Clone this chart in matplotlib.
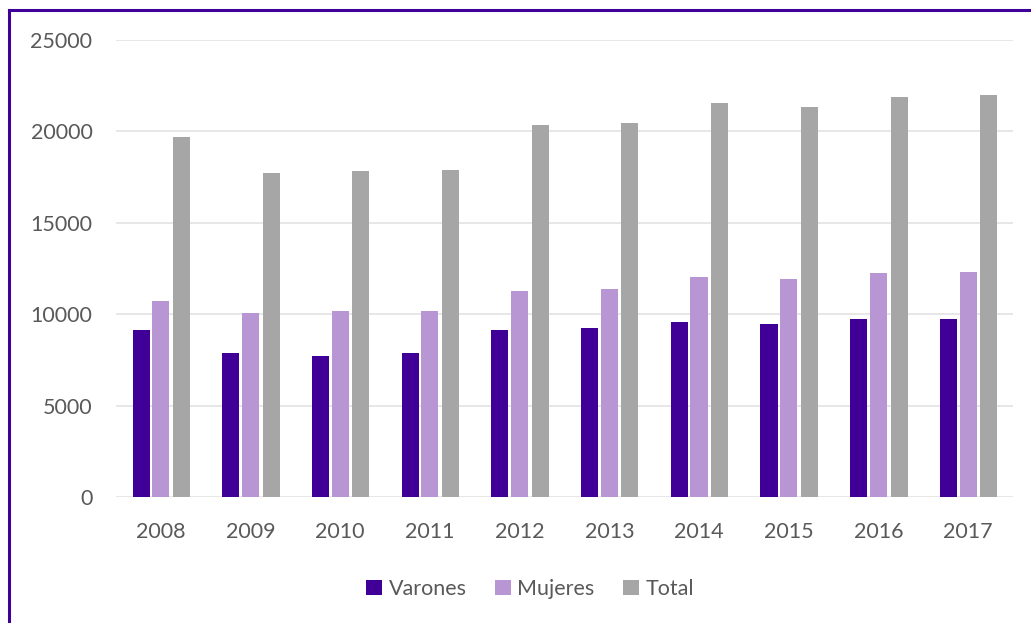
import matplotlib
matplotlib.use('Agg')
import matplotlib.pyplot as plt
from matplotlib.lines import Line2D
import numpy as np

# Datos
anios = ['2008', '2009', '2010', '2011', '2012', '2013', '2014', '2015', '2016', '2017']
varones = [9140, 7880, 7710, 7880, 9140, 9250, 9570, 9460, 9740, 9740]
mujeres = [10720, 10070, 10180, 10180, 11270, 11380, 12040, 11930, 12250, 12310]
total = [19710, 17740, 17850, 17890, 20350, 20480, 21540, 21320, 21870, 21990]

plt.rcParams['font.family'] = ['Lato', 'DejaVu Sans']

fig = plt.figure(figsize=(10.31, 6.23), dpi=100)
ax = fig.add_axes([0.1125, 0.2022, 0.87, 0.7336])

x = np.arange(len(anios))
ancho = 0.19
ax.bar(x - 0.22, varones, ancho, color='#400098', label='Varones', zorder=3)
ax.bar(x, mujeres, ancho, color='#b896d4', label='Mujeres', zorder=3)
ax.bar(x + 0.23, total, ancho, color='#a6a6a6', label='Total', zorder=3)

ax.set_xlim(-0.5, 9.5)
ax.set_ylim(0, 25000)
ax.set_yticks(range(0, 25001, 5000))
ax.set_xticks(x)
ax.set_xticklabels(anios)

ax.grid(axis='y', color='#e3e3e3', linewidth=1.2, zorder=0)
for s in ax.spines.values():
    s.set_visible(False)
ax.tick_params(axis='both', length=0, labelsize=15.5, colors='#595959')
ax.tick_params(axis='y', pad=17)
ax.tick_params(axis='x', pad=18)

fig.legend(loc='center', bbox_to_anchor=(0.514, 0.0546), ncol=3, frameon=False,
           fontsize=15.5, labelcolor='#595959', handlelength=0.75, handleheight=0.75,
           handletextpad=0.3, columnspacing=1.3)

# Borde morado (arriba e izquierda)
fig.add_artist(Line2D([9 / 1031, 1], [1 - 10 / 623, 1 - 10 / 623], color='#3f0099', linewidth=2.2))
fig.add_artist(Line2D([9 / 1031, 9 / 1031], [0, 1 - 10 / 623], color='#3f0099', linewidth=2.2))

fig.savefig('out.png', dpi=100)
